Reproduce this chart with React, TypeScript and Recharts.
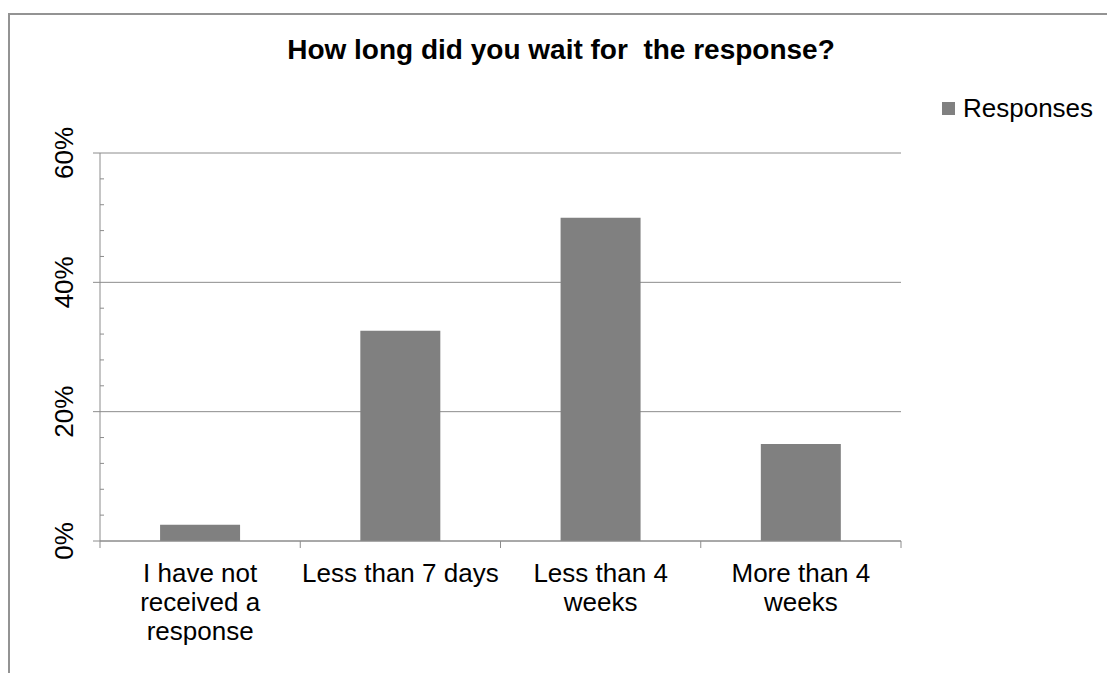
import React from "react";
import { BarChart, Bar, XAxis, YAxis, CartesianGrid, Legend } from "recharts";

const categories = [
  "I have not received a response",
  "Less than 7 days",
  "Less than 4 weeks",
  "More than 4 weeks",
];
const responses = [0.025, 0.325, 0.5, 0.15];
const majorTicks = [0, 0.2, 0.4, 0.6];
const allTicks = [
  0, 0.04, 0.08, 0.12, 0.16, 0.2, 0.24, 0.28, 0.32, 0.36, 0.4, 0.44, 0.48, 0.52, 0.56, 0.6,
];
const title = "How long did you wait for  the response?";
const seriesName = "Responses";

const FONT = "'Liberation Sans', Arial, sans-serif";
const AXIS = "#8c8c8c";
const BAR = "#808080";
const LABEL_SIZE = 26;
const LABEL_WIDTH = 205;

const chartData = categories.map((name, i) => ({ name, responses: responses[i] }));

// greedy word wrap using the real font metrics
let measureCtx: CanvasRenderingContext2D | null = null;
const wrapLabel = (label: string): string[] => {
  if (!measureCtx) {
    measureCtx = document.createElement("canvas").getContext("2d");
  }
  const ctx = measureCtx!;
  ctx.font = `${LABEL_SIZE}px ${FONT}`;
  const lines: string[] = [];
  let current = "";
  label.split(" ").forEach((word) => {
    const next = current ? `${current} ${word}` : word;
    if (current && ctx.measureText(next).width > LABEL_WIDTH) {
      lines.push(current);
      current = word;
    } else {
      current = next;
    }
  });
  if (current) lines.push(current);
  return lines;
};

// value axis: long ticks out + label on majors, short inner ticks on minors
const PercentTick = (props: any) => {
  const { x, y, payload } = props;
  const axisX = x + 27;
  const isMajor = majorTicks.includes(payload.value);
  if (!isMajor) {
    return <line x1={axisX} x2={axisX + 4} y1={y} y2={y} stroke={AXIS} />;
  }
  return (
    <g>
      <line x1={axisX - 7} x2={axisX} y1={y} y2={y} stroke={AXIS} />
      <text
        x={x}
        y={y}
        transform={`rotate(-90, ${x}, ${y})`}
        textAnchor="middle"
        fontSize={LABEL_SIZE}
        fontFamily={FONT}
        fill="#000"
      >
        {`${Math.round(payload.value * 100)}%`}
      </text>
    </g>
  );
};

// category labels wrap; tick marks sit on the band edges, not centers
const CategoryTick = (props: any) => {
  const { x, y, payload, index, visibleTicksCount, width } = props;
  const half = payload.offset || width / visibleTicksCount / 2;
  const axisY = y - 7;
  const lines = wrapLabel(String(payload.value));
  return (
    <g>
      <line x1={x - half} x2={x - half} y1={axisY} y2={axisY + 7} stroke={AXIS} />
      {index === visibleTicksCount - 1 && (
        <line x1={x + half} x2={x + half} y1={axisY} y2={axisY + 7} stroke={AXIS} />
      )}
      <text textAnchor="middle" fontSize={LABEL_SIZE} fontFamily={FONT} fill="#000">
        {lines.map((line, i) => (
          <tspan key={i} x={x} y={y + 34 + i * 29}>
            {line}
          </tspan>
        ))}
      </text>
    </g>
  );
};

const LegendContent = () => (
  <div style={{ display: "flex", alignItems: "center", fontFamily: FONT, fontSize: 26, color: "#000", whiteSpace: "nowrap" }}>
    <span style={{ display: "inline-block", width: 13, height: 13, background: BAR, marginRight: 8 }} />
    <span>{seriesName}</span>
  </div>
);

export default function App() {
  return (
    <div style={{ position: "absolute", left: 0, top: 0, width: 1107, height: 673, overflow: "hidden", background: "#fff" }}>
      <div
        style={{
          position: "absolute",
          left: 8,
          top: 13,
          width: 1200,
          height: 800,
          border: "2px solid #939393",
        }}
      />
      <div style={{ position: "absolute", left: 0, top: 0 }}>
        <BarChart
          width={1107}
          height={673}
          data={chartData}
          margin={{ top: 153, right: 206, bottom: 32, left: 60 }}
          barCategoryGap="30%"
        >
          <text
            x={561}
            y={59}
            textAnchor="middle"
            fontSize={28}
            fontWeight="bold"
            fontFamily={FONT}
            fill="#000"
            style={{ whiteSpace: "pre" }}
          >
            {title}
          </text>
          <CartesianGrid horizontal vertical={false} horizontalValues={majorTicks} stroke={AXIS} />
          <XAxis
            dataKey="name"
            height={100}
            tickLine={false}
            tickSize={7}
            tickMargin={0}
            interval={0}
            axisLine={{ stroke: AXIS }}
            tick={<CategoryTick />}
          />
          <YAxis
            width={40}
            domain={[0, 0.6]}
            ticks={allTicks}
            interval={0}
            tickSize={7}
            tickMargin={20}
            axisLine={{ stroke: AXIS }}
            tickLine={false}
            tick={<PercentTick />}
          />
          <Legend
            layout="horizontal"
            verticalAlign="middle"
            align="center"
            content={<LegendContent />}
            wrapperStyle={{ position: "absolute", left: 942, top: 93, width: "auto", height: 30 }}
          />
          <Bar dataKey="responses" name={seriesName} fill={BAR} isAnimationActive={false} />
        </BarChart>
      </div>
    </div>
  );
}
